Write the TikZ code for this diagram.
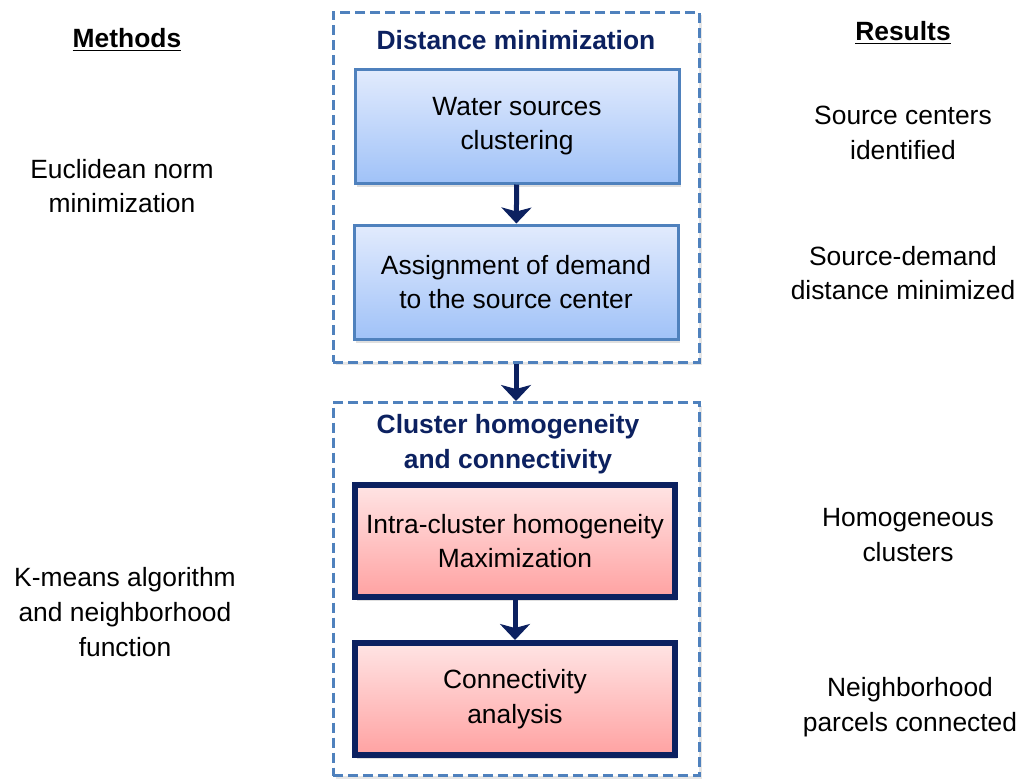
\documentclass[tikz,border=0pt]{standalone}
\usepackage{fontspec}
\setmainfont{Liberation Sans}
\usetikzlibrary{arrows.meta,shadows}
\definecolor{navy}{RGB}{12,33,96}
\definecolor{frameblue}{RGB}{79,129,189}
\definecolor{bluetop}{RGB}{226,235,253}
\definecolor{bluebot}{RGB}{160,194,248}
\definecolor{pinktop}{RGB}{255,228,228}
\definecolor{pinkbot}{RGB}{255,162,162}
\begin{document}
\begin{tikzpicture}[x=0.5pt,y=-0.5pt,
  >={Stealth[width=15pt,length=8pt,inset=2pt]},
  txt/.style={align=center,font=\fontsize{13.2}{17.3}\selectfont},
  ttl/.style={align=center,font=\fontsize{13.2}{17.5}\selectfont\bfseries,text=navy},
  frame/.style={draw=frameblue,fill=white,line width=1.5pt,dash pattern=on 5pt off 2.5pt,minimum width=183pt,
    drop shadow={opacity=0.2,shadow xshift=1.5pt,shadow yshift=-1.5pt}},
  bluebox/.style={txt,draw=frameblue,line width=1.5pt,top color=bluetop,bottom color=bluebot,
    minimum width=162pt,minimum height=57pt,
    drop shadow={opacity=0.25,shadow xshift=1pt,shadow yshift=-2pt}},
  pinkbox/.style={txt,draw=navy,line width=3pt,top color=pinktop,bottom color=pinkbot,
    minimum width=160pt,minimum height=56pt,
    drop shadow={opacity=0.25,shadow xshift=1pt,shadow yshift=-2pt}},
  conn/.style={->,draw=navy,line width=2.5pt}]
\useasboundingbox (0,0) rectangle (1024,778);

\node[frame,minimum height=175pt](F1) at (516,187){};
\node[frame,minimum height=186.5pt](F2) at (516,589){};

\node[ttl](T1) at (516,40){Distance minimization};
\node[bluebox](A) at (517,126){Water sources\\clustering};
\node[bluebox](B) at (516,282){Assignment of demand\\to the source center};
\draw[conn](A)--(B);

\node[ttl](T2) at (508,444){Cluster homogeneity\\and connectivity};
\node[pinkbox](C) at (515,541){Intra-cluster homogeneity\\Maximization};
\node[pinkbox](D) at (515,699){Connectivity\\analysis};
\draw[conn](C)--(D);

\draw[conn](F1)--(F2);

% methods
\node[txt,font=\fontsize{13.2}{17.3}\selectfont\bfseries](M) at (127,40){\underline{Methods}};
\node[txt](M1) at (122,186){Euclidean norm\\minimization};
\node[txt](M2) at (125,612){K-means algorithm\\and neighborhood\\function};

% results
\node[txt,font=\fontsize{13.2}{17.3}\selectfont\bfseries](R) at (903,33){\underline{Results}};
\node[txt](R1) at (903,133){Source centers\\identified};
\node[txt](R2) at (903,273){Source-demand\\distance minimized};
\node[txt](R3) at (908,535){Homogeneous\\clusters};
\node[txt](R4) at (910,707){Neighborhood\\parcels connected};
\end{tikzpicture}
\end{document}
